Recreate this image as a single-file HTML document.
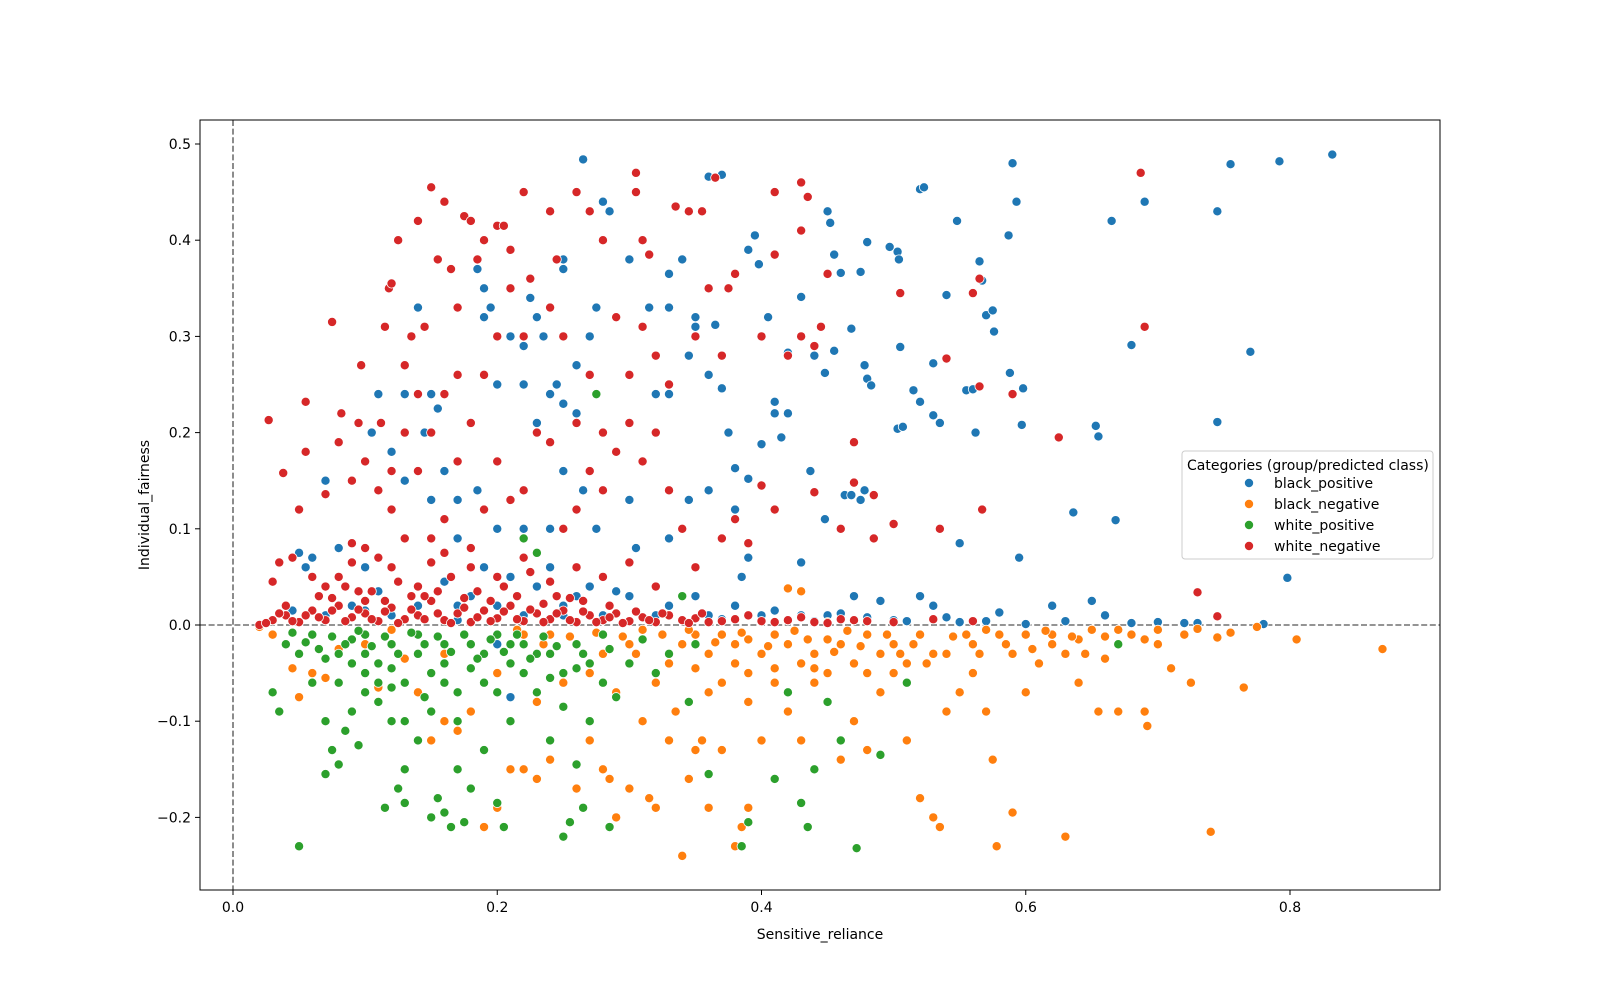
<!DOCTYPE html>
<html><head><meta charset="utf-8"><style>
html,body{margin:0;padding:0;background:#fff;}
svg{display:block;font-family:"DejaVu Sans","Liberation Sans",sans-serif;}
</style></head><body>
<svg id="chart" width="1600" height="1000" viewBox="0 0 1600 1000">
<rect x="0" y="0" width="1600" height="1000" fill="#fff"/>
<g id="grid"></g>
<g id="marks"></g>
<rect x="200" y="120" width="1240" height="770" fill="none" stroke="#000" stroke-width="1"/>
<g id="axes"></g>
<text x="820" y="939" text-anchor="middle" font-size="14">Sensitive_reliance</text>
<text transform="translate(149,505) rotate(-90)" text-anchor="middle" font-size="14">Individual_fairness</text>
<g id="legend">
<rect x="1182" y="451" width="251" height="108" rx="3" fill="#fff" fill-opacity="0.8" stroke="#ccc"/>
<text x="1187" y="470" font-size="14">Categories (group/predicted class)</text>
</g>
</svg>
<script>
const categories = ["black_positive","black_negative","white_positive","white_negative"];
const colors = ["#1f77b4","#ff7f0e","#2ca02c","#d62728"];
const xTicks = [0.0,0.2,0.4,0.6,0.8];
const xTickLabels = ["0.0","0.2","0.4","0.6","0.8"];
const yTicks = [-0.2,-0.1,0.0,0.1,0.2,0.3,0.4,0.5];
const yTickLabels = ["\u22120.2","\u22120.1","0.0","0.1","0.2","0.3","0.4","0.5"];
const blackPositive = [[0.265,0.484],[0.37,0.468],[0.36,0.466],[0.355,0.43],[0.52,0.453],[0.523,0.455],[0.59,0.48],[0.755,0.479],[0.792,0.482],[0.832,0.489],[0.593,0.44],[0.69,0.44],[0.745,0.43],[0.665,0.42],[0.548,0.42],[0.45,0.43],[0.452,0.418],[0.587,0.405],[0.395,0.405],[0.48,0.398],[0.497,0.393],[0.503,0.388],[0.504,0.38],[0.455,0.385],[0.565,0.378],[0.567,0.358],[0.46,0.366],[0.475,0.367],[0.39,0.39],[0.398,0.375],[0.54,0.343],[0.57,0.322],[0.575,0.327],[0.576,0.305],[0.68,0.291],[0.77,0.284],[0.505,0.289],[0.468,0.308],[0.44,0.28],[0.455,0.285],[0.448,0.262],[0.478,0.27],[0.48,0.256],[0.483,0.249],[0.515,0.244],[0.555,0.244],[0.56,0.245],[0.588,0.262],[0.598,0.246],[0.597,0.208],[0.53,0.272],[0.52,0.232],[0.53,0.218],[0.535,0.21],[0.503,0.204],[0.507,0.206],[0.55,0.085],[0.562,0.2],[0.653,0.207],[0.655,0.196],[0.745,0.211],[0.636,0.117],[0.668,0.109],[0.595,0.07],[0.798,0.049],[0.42,0.22],[0.41,0.22],[0.415,0.195],[0.4,0.188],[0.41,0.232],[0.42,0.283],[0.43,0.341],[0.405,0.32],[0.37,0.246],[0.38,0.163],[0.39,0.152],[0.375,0.2],[0.437,0.16],[0.463,0.135],[0.468,0.135],[0.475,0.13],[0.478,0.14],[0.448,0.11],[0.33,0.365],[0.34,0.38],[0.33,0.33],[0.315,0.33],[0.32,0.24],[0.33,0.24],[0.345,0.28],[0.35,0.31],[0.35,0.32],[0.36,0.26],[0.365,0.312],[0.27,0.3],[0.275,0.33],[0.28,0.44],[0.285,0.43],[0.3,0.38],[0.25,0.38],[0.25,0.37],[0.23,0.32],[0.22,0.29],[0.21,0.3],[0.225,0.34],[0.235,0.3],[0.26,0.27],[0.2,0.25],[0.195,0.33],[0.19,0.32],[0.18,0.42],[0.185,0.37],[0.19,0.35],[0.24,0.24],[0.22,0.25],[0.245,0.25],[0.26,0.22],[0.25,0.23],[0.23,0.21],[0.15,0.24],[0.155,0.225],[0.145,0.2],[0.14,0.33],[0.13,0.24],[0.11,0.24],[0.12,0.18],[0.105,0.2],[0.16,0.16],[0.17,0.13],[0.185,0.14],[0.2,0.1],[0.22,0.1],[0.24,0.1],[0.25,0.16],[0.265,0.14],[0.275,0.1],[0.3,0.13],[0.305,0.08],[0.33,0.09],[0.345,0.13],[0.36,0.14],[0.38,0.12],[0.39,0.07],[0.385,0.05],[0.07,0.15],[0.06,0.07],[0.05,0.075],[0.055,0.06],[0.08,0.08],[0.1,0.06],[0.12,0.12],[0.13,0.15],[0.15,0.13],[0.17,0.09],[0.19,0.06],[0.21,0.05],[0.24,0.06],[0.27,0.04],[0.3,0.03],[0.35,0.03],[0.38,0.02],[0.43,0.065],[0.47,0.03],[0.49,0.025],[0.52,0.03],[0.53,0.02],[0.58,0.013],[0.62,0.02],[0.65,0.025],[0.66,0.01],[0.68,0.002],[0.72,0.002],[0.73,0.002],[0.78,0.001],[0.6,0.001],[0.55,0.003],[0.5,0.005],[0.45,0.01],[0.42,0.005],[0.4,0.01],[0.36,0.01],[0.32,0.01],[0.28,0.01],[0.25,0.02],[0.22,0.01],[0.2,0.02],[0.17,0.02],[0.14,0.02],[0.12,0.01],[0.09,0.02],[0.07,0.01],[0.045,0.015],[0.03,0.005],[0.21,-0.075],[0.2,-0.02],[0.25,0.01],[0.17,0.005],[0.44,0.004],[0.46,0.012],[0.48,0.008],[0.51,0.004],[0.54,0.008],[0.57,0.004],[0.63,0.004],[0.7,0.003],[0.33,0.02],[0.37,0.006],[0.41,0.015],[0.43,0.01],[0.29,0.035],[0.26,0.03],[0.23,0.04],[0.18,0.03],[0.16,0.045],[0.11,0.035],[0.1,0.015]];
const blackNegative = [[0.02,-0.002],[0.03,-0.01],[0.045,-0.045],[0.05,-0.075],[0.06,-0.05],[0.07,-0.055],[0.08,-0.025],[0.1,-0.02],[0.11,-0.065],[0.13,-0.035],[0.14,-0.07],[0.15,-0.12],[0.16,-0.1],[0.17,-0.11],[0.18,-0.09],[0.19,-0.21],[0.2,-0.19],[0.21,-0.15],[0.22,-0.15],[0.23,-0.16],[0.24,-0.14],[0.25,-0.06],[0.26,-0.17],[0.27,-0.12],[0.28,-0.15],[0.285,-0.16],[0.29,-0.2],[0.3,-0.17],[0.31,-0.1],[0.315,-0.18],[0.32,-0.19],[0.33,-0.12],[0.335,-0.09],[0.34,-0.24],[0.345,-0.16],[0.35,-0.13],[0.355,-0.12],[0.36,-0.19],[0.37,-0.13],[0.38,-0.23],[0.385,-0.21],[0.39,-0.19],[0.4,-0.12],[0.41,-0.06],[0.42,-0.09],[0.43,-0.12],[0.44,-0.06],[0.45,-0.05],[0.46,-0.14],[0.47,-0.1],[0.48,-0.13],[0.49,-0.07],[0.5,-0.05],[0.51,-0.12],[0.52,-0.18],[0.53,-0.2],[0.535,-0.21],[0.54,-0.09],[0.55,-0.07],[0.56,-0.05],[0.57,-0.09],[0.575,-0.14],[0.578,-0.23],[0.59,-0.195],[0.6,-0.07],[0.61,-0.04],[0.62,-0.02],[0.63,-0.22],[0.64,-0.06],[0.655,-0.09],[0.66,-0.035],[0.67,-0.09],[0.69,-0.09],[0.692,-0.105],[0.7,-0.005],[0.71,-0.045],[0.725,-0.06],[0.74,-0.215],[0.745,-0.013],[0.765,-0.065],[0.775,-0.002],[0.805,-0.015],[0.87,-0.025],[0.42,0.038],[0.43,0.035],[0.45,0.003],[0.36,-0.03],[0.38,-0.02],[0.4,-0.03],[0.42,-0.02],[0.44,-0.03],[0.46,-0.02],[0.48,-0.01],[0.5,-0.02],[0.52,-0.01],[0.54,-0.03],[0.56,-0.02],[0.58,-0.01],[0.6,-0.01],[0.62,-0.01],[0.64,-0.015],[0.68,-0.01],[0.72,-0.01],[0.3,-0.02],[0.28,-0.03],[0.26,-0.02],[0.24,-0.01],[0.22,-0.01],[0.33,-0.04],[0.35,-0.01],[0.37,-0.06],[0.39,-0.05],[0.41,-0.01],[0.43,-0.04],[0.47,-0.04],[0.49,-0.03],[0.51,-0.04],[0.53,-0.03],[0.555,-0.01],[0.59,-0.03],[0.65,-0.005],[0.12,-0.005],[0.16,-0.03],[0.2,-0.05],[0.23,-0.08],[0.27,-0.05],[0.29,-0.07],[0.31,-0.005],[0.34,-0.02],[0.37,-0.01],[0.39,-0.015],[0.45,-0.015],[0.57,-0.005],[0.63,-0.03],[0.66,-0.012],[0.7,-0.02],[0.215,-0.005],[0.235,-0.02],[0.255,-0.012],[0.275,-0.008],[0.295,-0.012],[0.305,-0.03],[0.325,-0.01],[0.345,-0.005],[0.365,-0.018],[0.385,-0.008],[0.405,-0.022],[0.425,-0.006],[0.435,-0.015],[0.455,-0.028],[0.465,-0.006],[0.475,-0.022],[0.495,-0.01],[0.505,-0.03],[0.515,-0.02],[0.525,-0.04],[0.545,-0.012],[0.565,-0.03],[0.585,-0.02],[0.605,-0.025],[0.615,-0.006],[0.635,-0.012],[0.645,-0.03],[0.67,-0.005],[0.69,-0.015],[0.73,-0.004],[0.755,-0.008],[0.32,-0.06],[0.35,-0.045],[0.38,-0.04],[0.41,-0.045],[0.44,-0.045],[0.48,-0.05],[0.36,-0.07],[0.39,-0.08]];
const whitePositive = [[0.05,-0.23],[0.03,-0.07],[0.035,-0.09],[0.04,-0.02],[0.05,-0.03],[0.06,-0.06],[0.07,-0.1],[0.07,-0.155],[0.075,-0.13],[0.08,-0.145],[0.085,-0.11],[0.09,-0.09],[0.095,-0.125],[0.1,-0.05],[0.11,-0.06],[0.115,-0.19],[0.12,-0.1],[0.125,-0.17],[0.13,-0.185],[0.13,-0.15],[0.14,-0.12],[0.15,-0.2],[0.155,-0.18],[0.16,-0.195],[0.165,-0.21],[0.17,-0.15],[0.175,-0.205],[0.18,-0.17],[0.19,-0.13],[0.2,-0.185],[0.205,-0.21],[0.21,-0.1],[0.22,-0.05],[0.23,-0.07],[0.24,-0.12],[0.25,-0.22],[0.255,-0.205],[0.26,-0.145],[0.265,-0.19],[0.27,-0.1],[0.285,-0.21],[0.29,-0.075],[0.3,-0.04],[0.32,-0.05],[0.345,-0.08],[0.36,-0.155],[0.385,-0.23],[0.39,-0.205],[0.41,-0.16],[0.42,-0.07],[0.43,-0.185],[0.435,-0.21],[0.44,-0.15],[0.45,-0.08],[0.46,-0.12],[0.472,-0.232],[0.49,-0.135],[0.51,-0.06],[0.67,-0.02],[0.08,-0.03],[0.09,-0.015],[0.1,-0.01],[0.12,-0.02],[0.14,-0.03],[0.16,-0.04],[0.18,-0.02],[0.2,-0.01],[0.22,-0.02],[0.24,-0.03],[0.26,-0.02],[0.28,-0.01],[0.11,-0.04],[0.13,-0.06],[0.15,-0.05],[0.17,-0.07],[0.19,-0.06],[0.21,-0.04],[0.23,-0.03],[0.25,-0.05],[0.27,-0.04],[0.22,0.09],[0.23,0.075],[0.275,0.24],[0.34,0.03],[0.15,-0.09],[0.17,-0.1],[0.13,-0.1],[0.11,-0.08],[0.145,-0.075],[0.06,-0.01],[0.07,-0.035],[0.09,-0.04],[0.1,-0.03],[0.12,-0.045],[0.14,-0.01],[0.16,-0.02],[0.18,-0.045],[0.19,-0.03],[0.21,-0.02],[0.24,-0.055],[0.26,-0.045],[0.045,-0.008],[0.055,-0.018],[0.065,-0.025],[0.075,-0.012],[0.085,-0.02],[0.095,-0.006],[0.105,-0.022],[0.115,-0.012],[0.125,-0.03],[0.135,-0.008],[0.145,-0.02],[0.155,-0.012],[0.165,-0.028],[0.175,-0.01],[0.185,-0.035],[0.195,-0.015],[0.205,-0.028],[0.215,-0.01],[0.225,-0.035],[0.235,-0.012],[0.245,-0.022],[0.265,-0.03],[0.285,-0.025],[0.31,-0.015],[0.33,-0.03],[0.35,-0.02],[0.08,-0.06],[0.1,-0.07],[0.12,-0.065],[0.16,-0.06],[0.2,-0.07],[0.25,-0.085],[0.28,-0.06]];
const whiteNegative = [[0.027,0.213],[0.038,0.158],[0.055,0.232],[0.055,0.18],[0.07,0.136],[0.075,0.315],[0.08,0.19],[0.082,0.22],[0.09,0.15],[0.095,0.21],[0.097,0.27],[0.1,0.17],[0.11,0.14],[0.112,0.21],[0.115,0.31],[0.118,0.35],[0.12,0.355],[0.125,0.4],[0.13,0.27],[0.135,0.3],[0.14,0.42],[0.14,0.24],[0.145,0.31],[0.15,0.455],[0.155,0.38],[0.16,0.44],[0.165,0.37],[0.17,0.33],[0.175,0.425],[0.18,0.42],[0.185,0.38],[0.19,0.4],[0.2,0.415],[0.205,0.415],[0.21,0.39],[0.22,0.45],[0.225,0.36],[0.24,0.43],[0.245,0.38],[0.26,0.45],[0.27,0.43],[0.28,0.4],[0.305,0.47],[0.305,0.45],[0.31,0.4],[0.315,0.385],[0.335,0.435],[0.345,0.43],[0.355,0.43],[0.365,0.465],[0.38,0.365],[0.375,0.35],[0.41,0.45],[0.41,0.385],[0.43,0.46],[0.435,0.445],[0.43,0.41],[0.445,0.31],[0.43,0.3],[0.44,0.29],[0.45,0.365],[0.505,0.345],[0.54,0.277],[0.565,0.36],[0.56,0.345],[0.565,0.248],[0.59,0.24],[0.625,0.195],[0.687,0.47],[0.69,0.31],[0.567,0.12],[0.535,0.1],[0.5,0.105],[0.485,0.09],[0.485,0.135],[0.47,0.148],[0.47,0.19],[0.44,0.138],[0.41,0.12],[0.4,0.145],[0.38,0.11],[0.37,0.09],[0.39,0.085],[0.35,0.06],[0.34,0.1],[0.33,0.14],[0.32,0.2],[0.31,0.17],[0.3,0.21],[0.29,0.18],[0.28,0.14],[0.27,0.16],[0.26,0.12],[0.25,0.1],[0.24,0.19],[0.23,0.2],[0.22,0.14],[0.21,0.13],[0.2,0.17],[0.19,0.12],[0.18,0.08],[0.17,0.17],[0.16,0.11],[0.15,0.09],[0.14,0.16],[0.13,0.09],[0.12,0.12],[0.11,0.07],[0.1,0.08],[0.09,0.065],[0.08,0.05],[0.07,0.04],[0.06,0.05],[0.05,0.12],[0.045,0.07],[0.035,0.065],[0.03,0.045],[0.36,0.35],[0.35,0.3],[0.33,0.25],[0.3,0.26],[0.29,0.32],[0.27,0.26],[0.25,0.3],[0.24,0.33],[0.22,0.3],[0.21,0.35],[0.2,0.3],[0.19,0.26],[0.18,0.21],[0.17,0.26],[0.16,0.24],[0.15,0.2],[0.13,0.2],[0.12,0.16],[0.26,0.21],[0.28,0.2],[0.31,0.31],[0.32,0.28],[0.37,0.28],[0.4,0.3],[0.42,0.28],[0.46,0.1],[0.73,0.034],[0.745,0.009],[0.02,0.0],[0.03,0.005],[0.04,0.01],[0.05,0.003],[0.06,0.015],[0.07,0.005],[0.08,0.02],[0.09,0.008],[0.1,0.012],[0.11,0.004],[0.12,0.018],[0.13,0.006],[0.14,0.01],[0.15,0.025],[0.16,0.005],[0.17,0.012],[0.18,0.003],[0.19,0.015],[0.2,0.007],[0.21,0.02],[0.22,0.004],[0.23,0.012],[0.24,0.006],[0.25,0.015],[0.26,0.003],[0.27,0.01],[0.28,0.005],[0.29,0.012],[0.3,0.004],[0.31,0.008],[0.32,0.003],[0.33,0.01],[0.34,0.005],[0.35,0.007],[0.36,0.003],[0.38,0.006],[0.4,0.004],[0.42,0.005],[0.44,0.003],[0.46,0.006],[0.48,0.004],[0.5,0.003],[0.53,0.006],[0.56,0.004],[0.065,0.03],[0.085,0.04],[0.105,0.035],[0.125,0.045],[0.145,0.03],[0.165,0.05],[0.185,0.035],[0.205,0.04],[0.225,0.055],[0.245,0.03],[0.265,0.025],[0.285,0.02],[0.1,0.025],[0.14,0.04],[0.18,0.06],[0.22,0.07],[0.28,0.05],[0.32,0.04],[0.04,0.02],[0.055,0.01],[0.025,0.002],[0.035,0.012],[0.045,0.004],[0.065,0.008],[0.075,0.015],[0.085,0.004],[0.095,0.016],[0.105,0.006],[0.115,0.014],[0.125,0.002],[0.135,0.016],[0.145,0.006],[0.155,0.012],[0.165,0.002],[0.175,0.018],[0.185,0.008],[0.195,0.004],[0.205,0.014],[0.215,0.006],[0.225,0.016],[0.235,0.003],[0.245,0.012],[0.255,0.005],[0.265,0.014],[0.275,0.003],[0.285,0.008],[0.295,0.002],[0.305,0.014],[0.315,0.005],[0.325,0.012],[0.345,0.002],[0.355,0.012],[0.37,0.004],[0.39,0.01],[0.41,0.003],[0.43,0.008],[0.45,0.002],[0.47,0.005],[0.075,0.028],[0.095,0.035],[0.115,0.025],[0.135,0.03],[0.155,0.035],[0.175,0.028],[0.195,0.025],[0.215,0.03],[0.235,0.022],[0.255,0.028],[0.12,0.06],[0.15,0.065],[0.2,0.05],[0.24,0.045],[0.26,0.06],[0.09,0.085],[0.16,0.075],[0.3,0.065]];
const series = [blackPositive, blackNegative, whitePositive, whiteNegative];

const NS = "http://www.w3.org/2000/svg";
function xScale(v){ return 233 + v * 1321.25; }
function yScale(v){ return 625 - v * 962; }
function mk(tag, attrs, parent){
  const el = document.createElementNS(NS, tag);
  for (const k in attrs) el.setAttribute(k, attrs[k]);
  parent.appendChild(el);
  return el;
}
const grid = document.getElementById('grid');
const vline = mk('line', {x1: xScale(0), x2: xScale(0), y1: 120, y2: 890, stroke: '#707070', 'stroke-width': 1.6, 'stroke-dasharray': '6,2.6'}, grid);


const hline = mk('line', {x1: 200, x2: 1440, y1: yScale(0), y2: yScale(0), stroke: '#707070', 'stroke-width': 1.6, 'stroke-dasharray': '6,2.6'}, grid);



const marks = document.getElementById('marks');
series.forEach(function(pts, si){
  const g = mk('g', {}, marks);
  
  
  pts.forEach(function(p){
    const c = mk('circle', {cx: xScale(p[0]), cy: yScale(p[1]), r: 4.6, fill: colors[si], stroke: '#fff', 'stroke-width': 0.8}, g);
    
    
  });
});

const axes = document.getElementById('axes');
xTicks.forEach(function(t, i){
  const x = xScale(t);
  const tk = mk('line', {x1: x, x2: x, y1: 890, y2: 895, stroke: '#000', 'stroke-width': 1}, axes);
  
  
  const tx = mk('text', {x: x, y: 912, 'text-anchor': 'middle', 'font-size': 14}, axes);
  tx.textContent = xTickLabels[i];
  
  
});
yTicks.forEach(function(t, i){
  const y = yScale(t);
  const tk = mk('line', {x1: 195, x2: 200, y1: y, y2: y, stroke: '#000', 'stroke-width': 1}, axes);
  
  
  const tx = mk('text', {x: 191, y: y + 5, 'text-anchor': 'end', 'font-size': 14}, axes);
  tx.textContent = yTickLabels[i];
  
  
});

const legend = document.getElementById('legend');
categories.forEach(function(name, i){
  const y = 483 + i * 21;
  const c = mk('circle', {cx: 1249, cy: y, r: 4.6, fill: colors[i], stroke: '#fff', 'stroke-width': 0.8}, legend);
  
  
  const t = mk('text', {x: 1274, y: y + 5, 'font-size': 14}, legend);
  t.textContent = name;
  
  
});
</script>
</body></html>
